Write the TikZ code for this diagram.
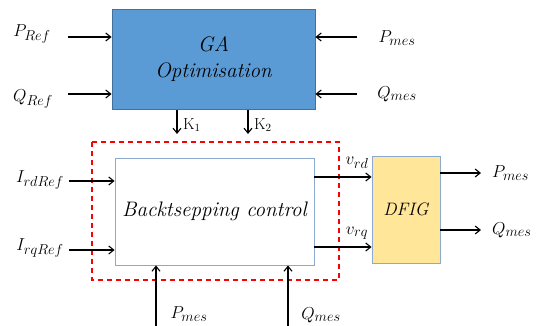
\documentclass[tikz,border=0pt]{standalone}
\usetikzlibrary{arrows.meta}
\definecolor{gablue}{RGB}{91,155,213}
\definecolor{gaedge}{RGB}{65,113,156}
\definecolor{boxedge}{RGB}{140,170,205}
\definecolor{dfigfill}{RGB}{255,230,153}
\definecolor{framered}{RGB}{255,0,0}
\begin{document}
\begin{tikzpicture}[x=1pt,y=-1pt,
  sig/.style={-{Straight Barb[length=5pt,width=8pt]},line width=1.1pt,draw=black},
  lbl/.style={font=\fontsize{19}{21}\selectfont,inner sep=1pt},
  klbl/.style={font=\fontsize{16}{18}\selectfont,inner sep=1pt}]
\useasboundingbox (0,0) rectangle (539,326);
% GA optimisation block
\node[draw=gaedge,line width=0.8pt,fill=gablue,
  minimum width=203pt,minimum height=100pt,inner sep=0pt,align=center,
  font=\fontsize{21}{26}\selectfont\itshape] (ga) at (213.5,59) {GA\\Optimisation};
% backstepping block
\node[draw=boxedge,line width=0.8pt,fill=white,
  minimum width=199pt,minimum height=107pt,inner sep=0pt,
  font=\fontsize{21}{24}\selectfont\itshape] (bs) at (214.5,211.5) {Backtsepping control};
% dashed controller frame
\draw[draw=framered,line width=1.2pt,dash pattern=on 5pt off 4pt]
  (92,142) rectangle (339,280);
% DFIG block
\node[draw=boxedge,line width=0.8pt,fill=dfigfill,
  minimum width=68pt,minimum height=107pt,inner sep=0pt,
  font=\fontsize{18}{20}\selectfont\itshape] (dfig) at (406,209.5) {DFIG};

% GA inputs
\coordinate (pr) at (68,37);
\coordinate (qr) at (68,94);
\coordinate (pm) at (357,37);
\coordinate (qm) at (357,94);
\node[lbl] (prl) at (32,34) {$P_{Ref}$};
\node[lbl] (qrl) at (33,99) {$Q_{Ref}$};
\node[lbl] (pml) at (397,38) {$P_{mes}$};
\node[lbl] (qml) at (397,94) {$Q_{mes}$};
\draw[sig] (pr) -- (pr -| ga.west);
\draw[sig] (qr) -- (qr -| ga.west);
\draw[sig] (pm) -- (pm -| ga.east);
\draw[sig] (qm) -- (qm -| ga.east);

% gains
\coordinate (k1a) at (177,110);
\coordinate (k1b) at (177,134);
\coordinate (k2a) at (248,110);
\coordinate (k2b) at (248,134);
\draw[sig] (k1a) -- (k1b);
\draw[sig] (k2a) -- (k2b);
\node[klbl,anchor=west] (k1) at (182,125) {K$_1$};
\node[klbl,anchor=west] (k2) at (253,125) {K$_2$};

% current references
\coordinate (ird) at (69,181);
\coordinate (irq) at (69,250);
\node[lbl] (irdl) at (40,180) {$I_{rdRef}$};
\node[lbl] (irql) at (40,248) {$I_{rqRef}$};
\draw[sig] (ird) -- (ird -| bs.west);
\draw[sig] (irq) -- (irq -| bs.west);

% rotor voltages
\coordinate (vd) at (314,177);
\coordinate (vq) at (314,247);
\draw[sig] (vd -| bs.east) -- (vd -| dfig.west);
\draw[sig] (vq -| bs.east) -- (vq -| dfig.west);
\node[lbl] (vdl) at (357,163) {$v_{rd}$};
\node[lbl] (vql) at (357,233) {$v_{rq}$};

% DFIG outputs
\coordinate (po) at (481,173);
\coordinate (qo) at (481,230);
\draw[sig] (po -| dfig.east) -- (po);
\draw[sig] (qo -| dfig.east) -- (qo);
\node[lbl,anchor=west] (pol) at (491,173) {$P_{mes}$};
\node[lbl,anchor=west] (qol) at (491,230) {$Q_{mes}$};

% measured feedback
\coordinate (pb) at (156,326);
\coordinate (qb) at (288,326);
\draw[sig] (pb) -- (pb |- bs.south);
\draw[sig] (qb) -- (qb |- bs.south);
\node[lbl] (pbl) at (189,314) {$P_{mes}$};
\node[lbl] (qbl) at (321,315) {$Q_{mes}$};
\end{tikzpicture}
\end{document}
